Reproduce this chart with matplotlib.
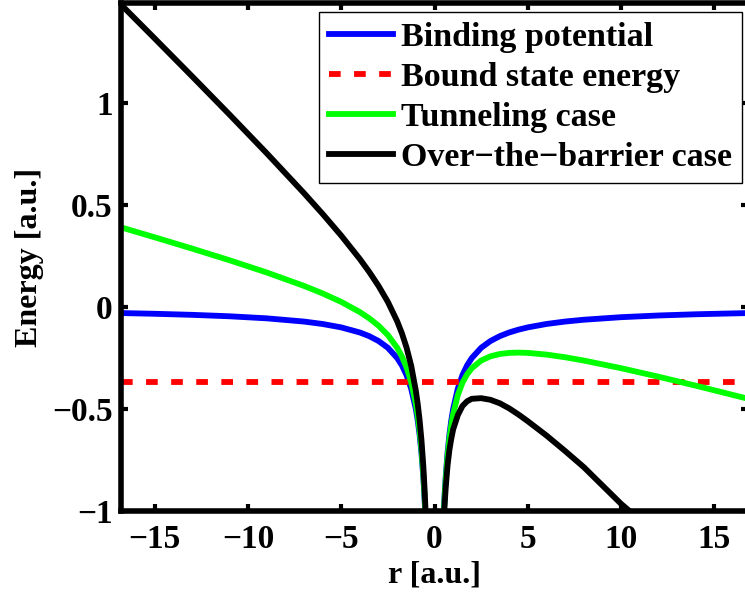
import matplotlib
matplotlib.use("Agg")
import matplotlib.pyplot as plt

# ---- data ----
r_left = [-16.8, -15, -13, -11, -9, -7, -6, -5, -4, -3.5, -3, -2.5, -2, -1.75, -1.5,
          -1.25, -1.0, -0.9, -0.8, -0.7, -0.6, -0.55, -0.5, -0.45]
r_right = [0.45, 0.5, 0.55, 0.6, 0.7, 0.8, 0.9, 1.0, 1.25, 1.5, 1.75, 2, 2.5, 3, 3.5,
           4, 4.5, 5, 6, 7, 8, 10, 12, 14, 16.8]

binding_left = [-0.0298, -0.0333, -0.0385, -0.0455, -0.0556, -0.0714, -0.0833, -0.1, -0.125,
                -0.1429, -0.1667, -0.2, -0.25, -0.2857, -0.3333, -0.4, -0.5, -0.5556, -0.625,
                -0.7143, -0.8333, -0.9091, -1.0, -1.1111]
binding_right = [-1.1111, -1.0, -0.9091, -0.8333, -0.7143, -0.625, -0.5556, -0.5, -0.4,
                 -0.3333, -0.2857, -0.25, -0.2, -0.1667, -0.1429, -0.125, -0.1111, -0.1,
                 -0.0833, -0.0714, -0.0625, -0.05, -0.0417, -0.0357, -0.0298]

tunnel_left = [0.3902, 0.3417, 0.2865, 0.2295, 0.1694, 0.1036, 0.0667, 0.025, -0.025,
               -0.0554, -0.0917, -0.1375, -0.2, -0.2420, -0.2958, -0.3688, -0.475, -0.5331,
               -0.605, -0.6968, -0.8183, -0.8954, -0.9875, -1.0999]
tunnel_right = [-1.1224, -1.0125, -0.9229, -0.8483, -0.7318, -0.645, -0.5781, -0.525,
                -0.4313, -0.3708, -0.3295, -0.3, -0.2625, -0.2417, -0.2304, -0.225, -0.2236,
                -0.225, -0.2333, -0.2464, -0.2625, -0.3, -0.3417, -0.3857, -0.4498]

otb_left = [1.4822, 1.3167, 1.1315, 0.9445, 0.7544, 0.5586, 0.4567, 0.35, 0.235, 0.1721,
            0.1033, 0.025, -0.07, -0.1282, -0.1983, -0.2875, -0.41, -0.4746, -0.553, -0.6513,
            -0.7793, -0.8596, -0.955, -1.0706]
otb_right = [-1.1516, -1.045, -0.9586, -0.8873, -0.7773, -0.70, -0.645, -0.60, -0.53,
             -0.485, -0.462, -0.450, -0.447, -0.455, -0.472, -0.497, -0.527, -0.560,
             -0.630, -0.706, -0.785, -0.965, -1.1217, -1.2957, -1.5418]

bound_energy = -0.37
bound_r = [-16.8, 16.8]

labels = ["Binding potential", "Bound state energy", "Tunneling case",
          "Over\u2212the\u2212barrier case"]
xticks = [-15, -10, -5, 0, 5, 10, 15]
xticklabels = ["\u221215", "\u221210", "\u22125", "0", "5", "10", "15"]
yticks = [-1, -0.5, 0, 0.5, 1]
yticklabels = ["\u22121", "\u22120.5", "0", "0.5", "1"]

# ---- plot ----
plt.rcParams['font.family'] = ['Liberation Serif', 'DejaVu Serif']
plt.rcParams['font.weight'] = 'bold'

W, H = 745, 592
fig = plt.figure(figsize=(W / 100, H / 100), dpi=100)
ax = fig.add_axes([121 / W, 1 - 511 / H, (748 - 121) / W, (511 - 3) / H])

lw = 4.2
ax.plot(r_left, binding_left, color=(0, 0, 1), lw=lw, label=labels[0])
ax.plot(r_right, binding_right, color=(0, 0, 1), lw=lw)
ax.plot(bound_r, [bound_energy, bound_energy], color=(1, 0, 0), lw=lw,
        dashes=(2.0, 2.3), dash_capstyle='butt', label=labels[1])
ax.plot(r_left, tunnel_left, color=(0, 1, 0), lw=lw, label=labels[2])
ax.plot(r_right, tunnel_right, color=(0, 1, 0), lw=lw)
ax.plot(r_left, otb_left, color='black', lw=lw, label=labels[3])
ax.plot(r_right, otb_right, color='black', lw=lw)

ax.set_xlim(-16.8, 16.8)
ax.set_ylim(-1, 1.49)
ax.set_xticks(xticks)
ax.set_xticklabels(xticklabels)
ax.set_yticks(yticks)
ax.set_yticklabels(yticklabels)
ax.tick_params(direction='in', length=5, width=3, labelsize=24, top=True, right=True,
               pad=6)
ax.tick_params(axis='x', pad=9)
for s in ax.spines.values():
    s.set_linewidth(4.0)

ax.set_xlabel("r [a.u.]", fontsize=23, fontweight='bold', labelpad=4)
ax.set_ylabel("Energy [a.u.]", fontsize=23, fontweight='bold', labelpad=6)

leg = ax.legend(loc='upper right', bbox_to_anchor=(742 / W, 1 - 12 / H),
                bbox_transform=fig.transFigure, borderaxespad=0, fontsize=24.5,
                handlelength=1.9, handletextpad=0.24, labelspacing=0.27,
                borderpad=0.28, fancybox=False, framealpha=1, edgecolor='black')
leg.get_frame().set_linewidth(1.0)
for t in leg.get_texts():
    t.set_fontweight('bold')

fig.savefig("out.png", dpi=100)
